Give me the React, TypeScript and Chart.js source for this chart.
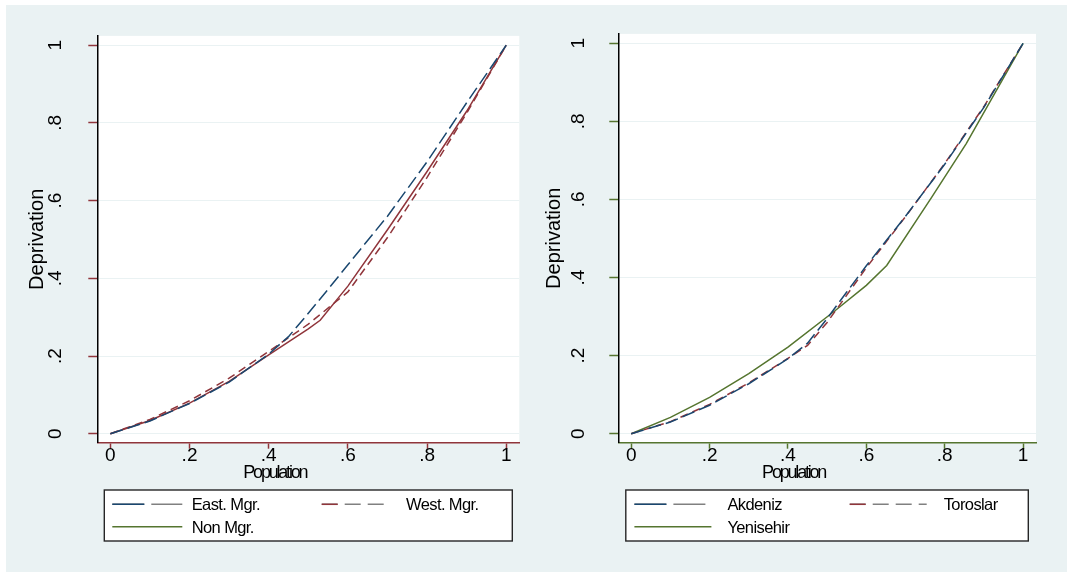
import React, { useEffect, useRef } from "react";
import { Chart, registerables } from "chart.js";

Chart.register(...registerables);

// ---------- data ----------
const xTickValues = [0, 0.2, 0.4, 0.6, 0.8, 1];
const xTickLabels = ["0", ".2", ".4", ".6", ".8", "1"];
const yTickValues = [0, 0.2, 0.4, 0.6, 0.8, 1];
const yTickLabels = ["0", ".2", ".4", ".6", ".8", "1"];

// left panel
const eastMgrX = [0, 0.1, 0.2, 0.3, 0.4, 0.45, 0.5, 0.55, 0.6, 0.7, 0.8, 0.9, 1];
const eastMgrY = [0, 0.033, 0.078, 0.133, 0.205, 0.25, 0.31, 0.372, 0.435, 0.56, 0.7, 0.852, 1];
const westMgrX = [0, 0.1, 0.2, 0.3, 0.4, 0.5, 0.6, 0.7, 0.8, 0.9, 1];
const westMgrY = [0, 0.037, 0.085, 0.143, 0.212, 0.282, 0.365, 0.505, 0.66, 0.825, 1];
const nonMgrX = [0, 0.1, 0.2, 0.3, 0.4, 0.5, 0.53, 0.6, 0.7, 0.8, 0.9, 1];
const nonMgrY = [0, 0.034, 0.079, 0.135, 0.203, 0.27, 0.292, 0.38, 0.525, 0.675, 0.83, 1];

// right panel
const akdenizX = [0, 0.1, 0.2, 0.3, 0.4, 0.45, 0.5, 0.55, 0.6, 0.7, 0.8, 0.9, 1];
const akdenizY = [0, 0.03, 0.073, 0.128, 0.192, 0.232, 0.295, 0.363, 0.43, 0.557, 0.69, 0.836, 1];
const toroslarX = [0, 0.1, 0.2, 0.3, 0.4, 0.45, 0.5, 0.55, 0.6, 0.7, 0.8, 0.9, 1];
const toroslarY = [0, 0.031, 0.075, 0.13, 0.193, 0.226, 0.285, 0.355, 0.425, 0.556, 0.692, 0.838, 1];
const yenisehirX = [0, 0.1, 0.2, 0.3, 0.4, 0.52, 0.6, 0.652, 0.767, 0.855, 1];
const yenisehirY = [0, 0.042, 0.093, 0.154, 0.222, 0.315, 0.38, 0.431, 0.606, 0.743, 1];

// ---------- style ----------
const NAVY = "#1a476f";
const MAROON = "#90353b";
const GREEN = "#55752f";
const GRAY = "#808080";
const BG = "#eaf2f3";
const FONT = "'Liberation Sans', Arial, Helvetica, sans-serif";

type Series = {
  label: string;
  x: number[];
  y: number[];
  color: string;
  dash: number[];
  legendColor: string;
  legendDash: number[];
  legendWidth: number;
  col: number;
  row: number;
};

type Panel = {
  left: number;
  width: number;
  axisColor: string;
  yAxisWidth: number;
  plotRight: number;
  yTickPad: number;
  yTitlePad: number;
  legendBox: { x: number; y: number; w: number; h: number };
  colSampleX: number[];
  colLabelX: number[];
  series: Series[];
};

const H = 572;
const PLOT_TOP = 33.3;
const PLOT_BOTTOM = 442.7;
const X_AXIS_H = 40;

const panels: Panel[] = [
  {
    left: 0,
    width: 530,
    axisColor: MAROON,
    yAxisWidth: 97.3,
    plotRight: 519.3,
    yTickPad: 24.5,
    yTitlePad: 25,
    legendBox: { x: 104.3, y: 490, w: 408, h: 51 },
    colSampleX: [112.3, 321.7],
    colLabelX: [191.7, 406],
    series: [
      { label: "East. Mgr.", x: eastMgrX, y: eastMgrY, color: NAVY, dash: [13, 5], legendColor: NAVY, legendDash: [32, 7], legendWidth: 70, col: 0, row: 0 },
      { label: "West. Mgr.", x: westMgrX, y: westMgrY, color: MAROON, dash: [8, 5], legendColor: MAROON, legendDash: [16, 7], legendWidth: 63, col: 1, row: 0 },
      { label: "Non Mgr.", x: nonMgrX, y: nonMgrY, color: MAROON, dash: [], legendColor: GREEN, legendDash: [], legendWidth: 70, col: 0, row: 1 },
    ],
  },
  {
    left: 530,
    width: 537,
    axisColor: GREEN,
    yAxisWidth: 88.3,
    plotRight: 506,
    yTickPad: 22.5,
    yTitlePad: 12,
    legendBox: { x: 95.8, y: 490, w: 402.5, h: 51 },
    colSampleX: [104.4, 319.7],
    colLabelX: [197.4, 413.7],
    series: [
      { label: "Akdeniz", x: akdenizX, y: akdenizY, color: NAVY, dash: [13, 5], legendColor: NAVY, legendDash: [32, 7], legendWidth: 71, col: 0, row: 0 },
      { label: "Toroslar", x: toroslarX, y: toroslarY, color: MAROON, dash: [8, 5], legendColor: MAROON, legendDash: [16, 7], legendWidth: 77, col: 1, row: 0 },
      { label: "Yenisehir", x: yenisehirX, y: yenisehirY, color: GREEN, dash: [], legendColor: GREEN, legendDash: [], legendWidth: 77, col: 0, row: 1 },
    ],
  },
];

function setSpacing(ctx: any, v: string) {
  if ("letterSpacing" in ctx) ctx.letterSpacing = v;
}

function makeChart(canvas: HTMLCanvasElement, p: Panel) {
  const bgPlugin = {
    id: "plotbg",
    beforeDraw(chart: any) {
      const { ctx, chartArea } = chart;
      ctx.save();
      ctx.fillStyle = "#ffffff";
      ctx.fillRect(chartArea.left, chartArea.top, chartArea.right - chartArea.left, chartArea.bottom - chartArea.top);
      ctx.restore();
    },
  };

  const overlayPlugin = {
    id: "overlay",
    afterDraw(chart: any) {
      const { ctx, chartArea } = chart;
      // x axis title
      ctx.save();
      ctx.fillStyle = "#000";
      ctx.font = `18px ${FONT}`;
      setSpacing(ctx, "-2.2px");
      ctx.textAlign = "center";
      ctx.textBaseline = "alphabetic";
      const cx = (chartArea.left + chartArea.right) / 2 - 33.5;
      ctx.fillText("Population", cx, 478.3);
      ctx.restore();

      // legend
      const b = p.legendBox;
      ctx.save();
      ctx.fillStyle = "#ffffff";
      ctx.fillRect(b.x, b.y, b.w, b.h);
      ctx.strokeStyle = "#262626";
      ctx.lineWidth = 1.4;
      ctx.strokeRect(b.x, b.y, b.w, b.h);
      const rowY = [504.3, 526.7];
      p.series.forEach((s) => {
        const sx = p.colSampleX[s.col];
        const sy = rowY[s.row];
        ctx.lineWidth = 1.5;
        if (s.legendDash.length) {
          ctx.setLineDash(s.legendDash);
          ctx.strokeStyle = GRAY;
          ctx.beginPath();
          ctx.moveTo(sx, sy);
          ctx.lineTo(sx + s.legendWidth, sy);
          ctx.stroke();
          ctx.setLineDash([]);
          ctx.strokeStyle = s.legendColor;
          ctx.beginPath();
          ctx.moveTo(sx, sy);
          ctx.lineTo(sx + s.legendDash[0], sy);
          ctx.stroke();
        } else {
          ctx.setLineDash([]);
          ctx.strokeStyle = s.legendColor;
          ctx.beginPath();
          ctx.moveTo(sx, sy);
          ctx.lineTo(sx + s.legendWidth, sy);
          ctx.stroke();
        }
        ctx.fillStyle = "#000";
        ctx.font = `16.5px ${FONT}`;
        setSpacing(ctx, "-0.6px");
        ctx.textAlign = "left";
        ctx.textBaseline = "alphabetic";
        ctx.fillText(s.label, p.colLabelX[s.col], sy + 5.8);
        setSpacing(ctx, "0px");
      });
      ctx.restore();
    },
  };

  return new Chart(canvas, {
    type: "line",
    data: {
      datasets: p.series.map((s) => ({
        label: s.label,
        data: s.x.map((xv, i) => ({ x: xv, y: s.y[i] })),
        borderColor: s.color,
        backgroundColor: s.color,
        borderDash: s.dash,
        borderWidth: 1.5,
        pointRadius: 0,
        tension: 0,
        fill: false,
      })),
    },
    options: {
      animation: false,
      responsive: false,
      maintainAspectRatio: false,
      layout: {
        padding: {
          left: 0,
          top: PLOT_TOP,
          right: p.width - p.plotRight,
          bottom: H - PLOT_BOTTOM - X_AXIS_H,
        },
      },
      plugins: {
        legend: { display: false },
        tooltip: { enabled: false },
        title: { display: false },
      },
      scales: {
        x: {
          type: "linear",
          min: -0.033,
          max: 1.033,
          afterBuildTicks: (s: any) => {
            s.ticks = xTickValues.map((v) => ({ value: v }));
          },
          afterFit: (s: any) => {
            s.height = X_AXIS_H;
          },
          ticks: {
            callback: (_v: any, i: number) => xTickLabels[i],
            font: { family: FONT, size: 19, lineHeight: 1 },
            color: "#000",
            padding: -2,
            autoSkip: false,
            maxRotation: 0,
            minRotation: 0,
          },
          grid: {
            drawOnChartArea: false,
            drawTicks: true,
            tickLength: 6,
            tickColor: p.axisColor,
            tickWidth: 1.5,
          },
          border: { color: p.axisColor, width: 1.5 },
        },
        y: {
          type: "linear",
          min: -0.023,
          max: 1.024,
          afterBuildTicks: (s: any) => {
            s.ticks = yTickValues.map((v) => ({ value: v }));
          },
          afterFit: (s: any) => {
            s.width = p.yAxisWidth;
          },
          ticks: {
            callback: (_v: any, i: number) => yTickLabels[i],
            font: { family: FONT, size: 19, lineHeight: 1.2 },
            color: "#000",
            minRotation: 90,
            maxRotation: 90,
            crossAlign: "center",
            padding: p.yTickPad,
            autoSkip: false,
          },
          grid: {
            color: BG,
            lineWidth: 1,
            drawTicks: true,
            tickLength: 9,
            tickColor: p.axisColor,
            tickWidth: 1.5,
          },
          border: { color: "#000", width: 1.5 },
          title: {
            display: true,
            text: "Deprivation",
            color: "#000",
            font: { family: FONT, size: 20, lineHeight: 1.2 },
            padding: { top: p.yTitlePad, bottom: 0 },
          },
        },
      },
    } as any,
    plugins: [bgPlugin, overlayPlugin],
  });
}

function PanelChart({ p }: { p: Panel }) {
  const ref = useRef<HTMLCanvasElement | null>(null);
  useEffect(() => {
    if (!ref.current) return;
    const chart = makeChart(ref.current, p);
    return () => chart.destroy();
  }, [p]);
  return (
    <canvas
      ref={ref}
      width={p.width}
      height={H}
      style={{ position: "absolute", left: p.left, top: 0, width: p.width, height: H }}
    />
  );
}

export default function App() {
  return (
    <div style={{ position: "absolute", left: 0, top: 0, width: 1067, height: 572, background: "#ffffff", overflow: "hidden" }}>
      <div style={{ position: "absolute", left: 6, top: 5, right: 0, bottom: 0, background: BG }} />
      {panels.map((p, i) => (
        <PanelChart key={i} p={p} />
      ))}
    </div>
  );
}
